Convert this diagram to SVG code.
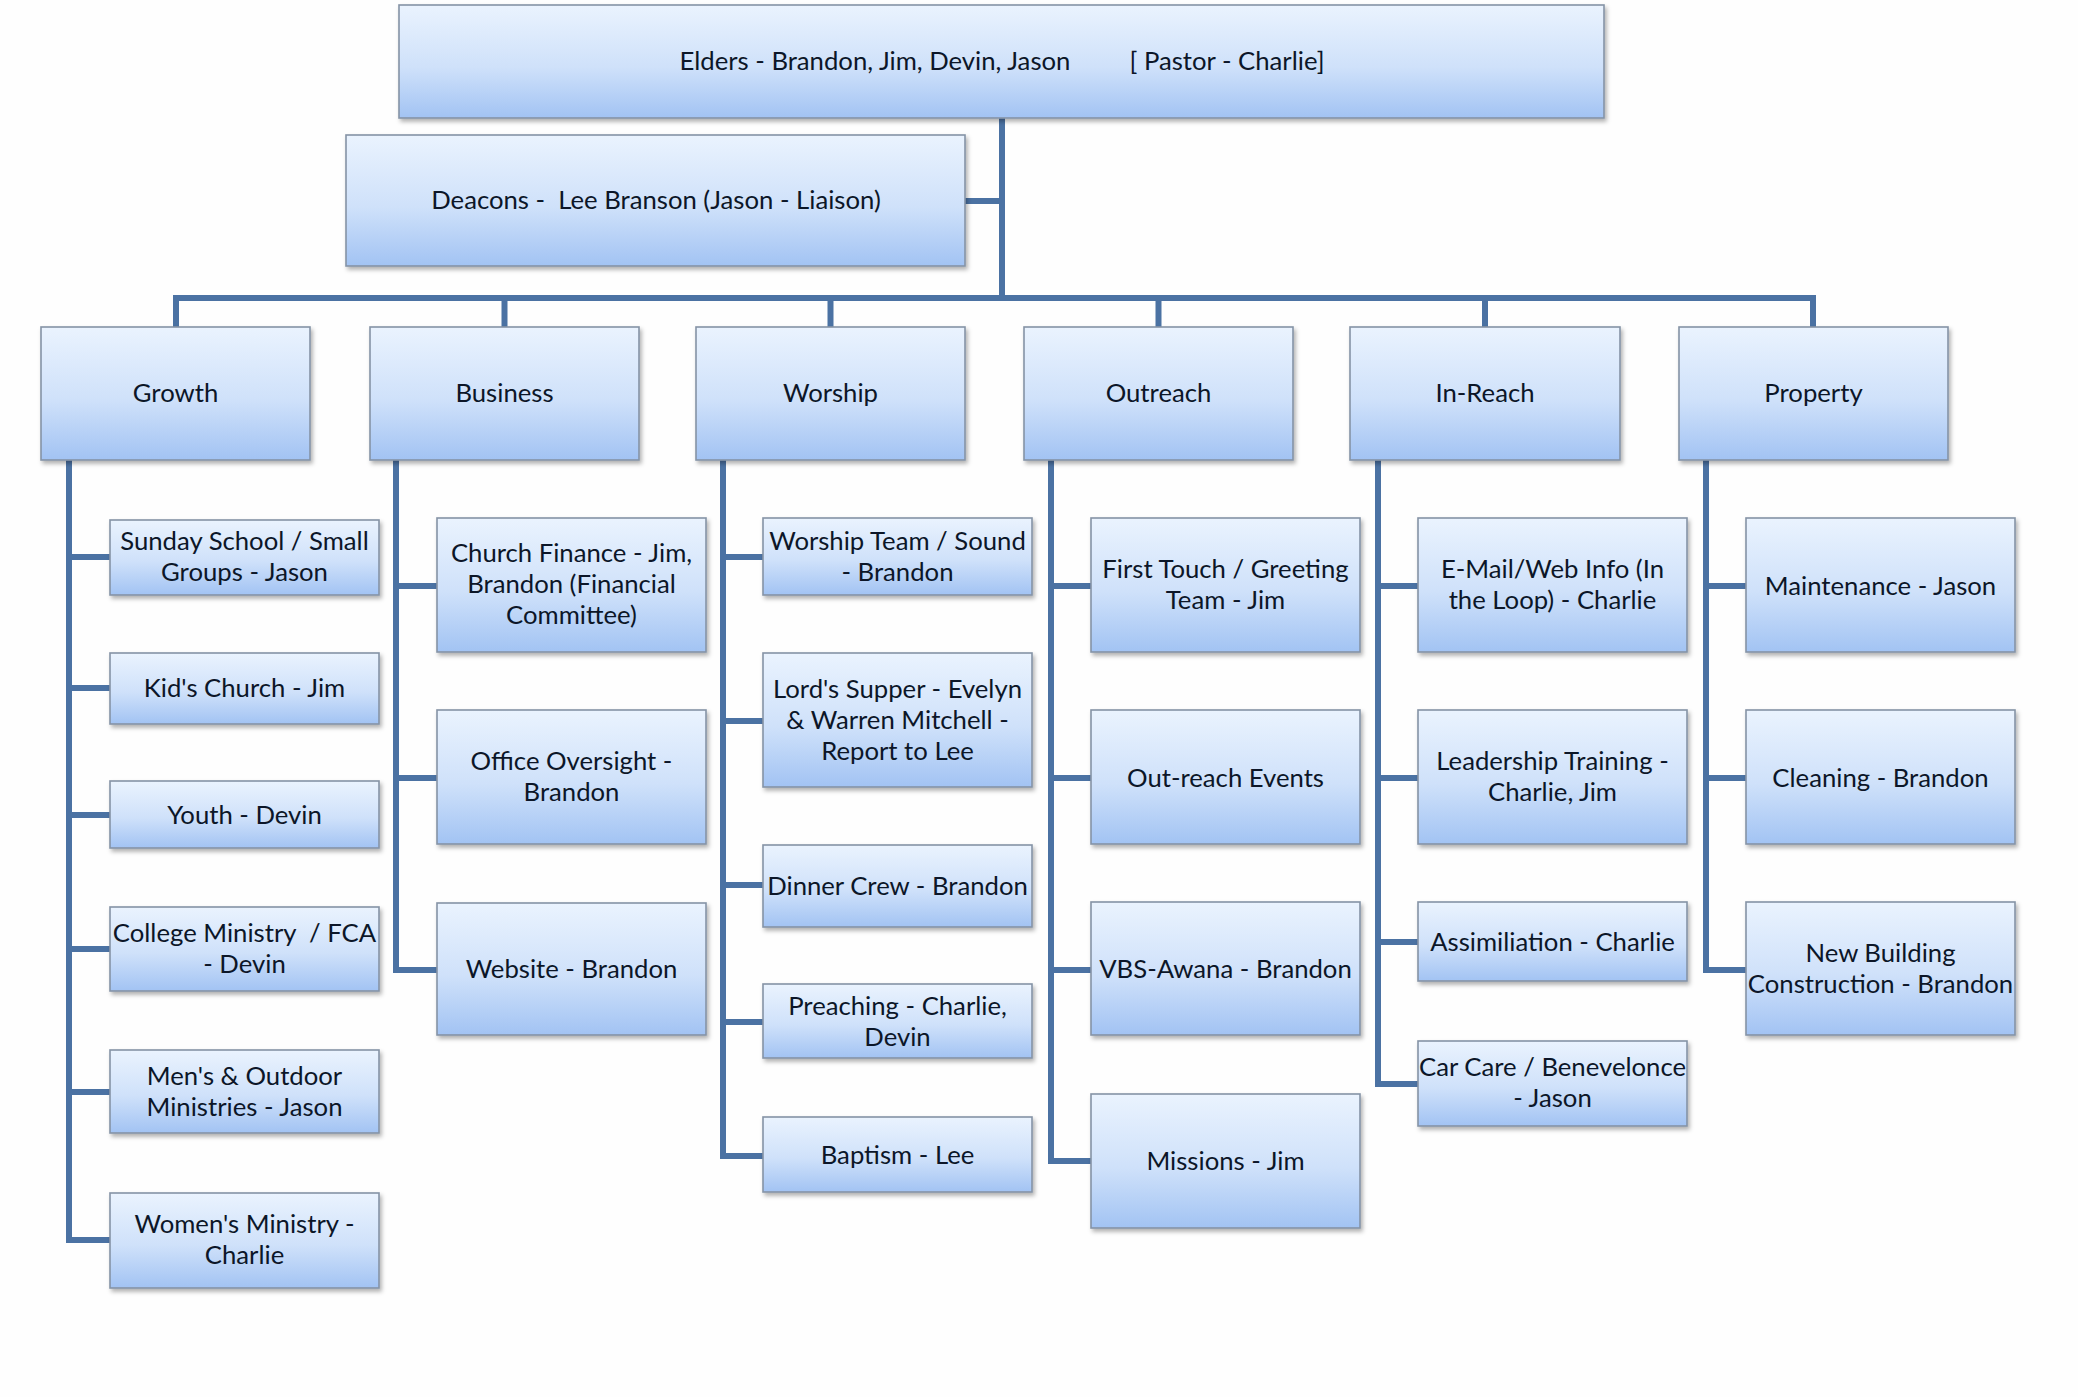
<svg xmlns="http://www.w3.org/2000/svg" width="2078" height="1397" viewBox="0 0 2078 1397">
<defs>
<linearGradient id="boxfill" x1="0" y1="0" x2="0" y2="1">
<stop offset="0" stop-color="#eaf3fe"/>
<stop offset="0.55" stop-color="#cfe1fa"/>
<stop offset="1" stop-color="#a2c3f3"/>
</linearGradient>
<filter id="shadow" x="-5%" y="-5%" width="115%" height="130%">
<feDropShadow dx="2" dy="3" stdDeviation="2" flood-color="#000" flood-opacity="0.3"/>
</filter>
</defs>
<style>
.box{fill:url(#boxfill);stroke:#8593a6;stroke-width:1.6;filter:url(#shadow)}
.t{font-family:Lato,"Open Sans","Liberation Sans",sans-serif;font-size:25.7px;fill:#0c1628;text-anchor:middle;white-space:pre}
.c{fill:none;stroke:#4b72a3;stroke-width:6;stroke-linejoin:miter}
</style>
<rect width="2078" height="1397" fill="#fefefe"/>
<g id="connectors">
<path class="c" d="M1002 118 V298"/>
<path class="c" d="M965 201 H1002"/>
<path class="c" d="M176 327 V298 H1813 V327"/>
<path class="c" d="M504.5 298 V327"/>
<path class="c" d="M830.5 298 V327"/>
<path class="c" d="M1158.5 298 V327"/>
<path class="c" d="M1485 298 V327"/>
<path class="c" d="M69 460 V1240 H110"/>
<path class="c" d="M69 557 H110 M69 688 H110 M69 815 H110 M69 949 H110 M69 1092 H110"/>
<path class="c" d="M396 460 V970 H437"/>
<path class="c" d="M396 586 H437 M396 778 H437"/>
<path class="c" d="M723 460 V1156 H763"/>
<path class="c" d="M723 557 H763 M723 721 H763 M723 885 H763 M723 1022 H763"/>
<path class="c" d="M1051 460 V1161 H1091"/>
<path class="c" d="M1051 586 H1091 M1051 778 H1091 M1051 970 H1091"/>
<path class="c" d="M1378 460 V1084 H1418"/>
<path class="c" d="M1378 586 H1418 M1378 778 H1418 M1378 942 H1418"/>
<path class="c" d="M1706 460 V970 H1746"/>
<path class="c" d="M1706 586 H1746 M1706 778 H1746"/>
</g>
<g id="elders"><rect class="box" x="399" y="5" width="1205" height="113"/>
<text class="t" x="875" y="70">Elders - Brandon, Jim, Devin, Jason</text>
<text class="t" x="1227" y="70">[ Pastor - Charlie]</text></g>
<g id="deacons"><rect class="box" x="346" y="135" width="619" height="131"/>
<text class="t" x="656" y="209" xml:space="preserve">Deacons -  Lee Branson (Jason - Liaison)</text></g>

<g id="growth"><rect class="box" x="41" y="327" width="269" height="133"/><text class="t" x="175.5" y="402">Growth</text></g>
<g id="business"><rect class="box" x="370" y="327" width="269" height="133"/><text class="t" x="504.5" y="402">Business</text></g>
<g id="worship"><rect class="box" x="696" y="327" width="269" height="133"/><text class="t" x="830.5" y="402">Worship</text></g>
<g id="outreach"><rect class="box" x="1024" y="327" width="269" height="133"/><text class="t" x="1158.5" y="402">Outreach</text></g>
<g id="inreach"><rect class="box" x="1350" y="327" width="270" height="133"/><text class="t" x="1485" y="402">In-Reach</text></g>
<g id="property"><rect class="box" x="1679" y="327" width="269" height="133"/><text class="t" x="1813.5" y="402">Property</text></g>

<g id="sunday-school"><rect class="box" x="110" y="520" width="269" height="75"/><text class="t" x="244.5" y="550">Sunday School / Small</text><text class="t" x="244.5" y="581">Groups - Jason</text></g>
<g id="kids-church"><rect class="box" x="110" y="653" width="269" height="71"/><text class="t" x="244.5" y="697">Kid's Church - Jim</text></g>
<g id="youth"><rect class="box" x="110" y="781" width="269" height="67"/><text class="t" x="244.5" y="824">Youth - Devin</text></g>
<g id="college"><rect class="box" x="110" y="907" width="269" height="84"/><text class="t" x="244.5" y="942" xml:space="preserve">College Ministry  / FCA</text><text class="t" x="244.5" y="973">- Devin</text></g>
<g id="mens"><rect class="box" x="110" y="1050" width="269" height="83"/><text class="t" x="244.5" y="1085">Men's &amp; Outdoor</text><text class="t" x="244.5" y="1116">Ministries - Jason</text></g>
<g id="womens"><rect class="box" x="110" y="1193" width="269" height="95"/><text class="t" x="244.5" y="1233">Women's Ministry -</text><text class="t" x="244.5" y="1264">Charlie</text></g>

<g id="church-finance"><rect class="box" x="437" y="518" width="269" height="134"/><text class="t" x="571.5" y="562">Church Finance - Jim,</text><text class="t" x="571.5" y="593">Brandon (Financial</text><text class="t" x="571.5" y="624">Committee)</text></g>
<g id="office-oversight"><rect class="box" x="437" y="710" width="269" height="134"/><text class="t" x="571.5" y="770">Office Oversight -</text><text class="t" x="571.5" y="801">Brandon</text></g>
<g id="website"><rect class="box" x="437" y="903" width="269" height="132"/><text class="t" x="571.5" y="978">Website - Brandon</text></g>

<g id="worship-team"><rect class="box" x="763" y="518" width="269" height="77"/><text class="t" x="897.5" y="550">Worship Team / Sound</text><text class="t" x="897.5" y="581">- Brandon</text></g>
<g id="lords-supper"><rect class="box" x="763" y="653" width="269" height="134"/><text class="t" x="897.5" y="698">Lord's Supper - Evelyn</text><text class="t" x="897.5" y="729">&amp; Warren Mitchell -</text><text class="t" x="897.5" y="760">Report to Lee</text></g>
<g id="dinner-crew"><rect class="box" x="763" y="845" width="269" height="82"/><text class="t" x="897.5" y="895">Dinner Crew - Brandon</text></g>
<g id="preaching"><rect class="box" x="763" y="984" width="269" height="74"/><text class="t" x="897.5" y="1015">Preaching - Charlie,</text><text class="t" x="897.5" y="1046">Devin</text></g>
<g id="baptism"><rect class="box" x="763" y="1117" width="269" height="75"/><text class="t" x="897.5" y="1164">Baptism - Lee</text></g>

<g id="first-touch"><rect class="box" x="1091" y="518" width="269" height="134"/><text class="t" x="1225.5" y="578">First Touch / Greeting</text><text class="t" x="1225.5" y="609">Team - Jim</text></g>
<g id="outreach-events"><rect class="box" x="1091" y="710" width="269" height="134"/><text class="t" x="1225.5" y="787">Out-reach Events</text></g>
<g id="vbs-awana"><rect class="box" x="1091" y="902" width="269" height="133"/><text class="t" x="1225.5" y="978">VBS-Awana - Brandon</text></g>
<g id="missions"><rect class="box" x="1091" y="1094" width="269" height="134"/><text class="t" x="1225.5" y="1170">Missions - Jim</text></g>

<g id="email-web"><rect class="box" x="1418" y="518" width="269" height="134"/><text class="t" x="1552.5" y="578">E-Mail/Web Info (In</text><text class="t" x="1552.5" y="609">the Loop) - Charlie</text></g>
<g id="leadership"><rect class="box" x="1418" y="710" width="269" height="134"/><text class="t" x="1552.5" y="770">Leadership Training -</text><text class="t" x="1552.5" y="801">Charlie, Jim</text></g>
<g id="assimiliation"><rect class="box" x="1418" y="902" width="269" height="79"/><text class="t" x="1552.5" y="951">Assimiliation - Charlie</text></g>
<g id="car-care"><rect class="box" x="1418" y="1041" width="269" height="85"/><text class="t" x="1552.5" y="1076">Car Care / Benevelonce</text><text class="t" x="1552.5" y="1107">- Jason</text></g>

<g id="maintenance"><rect class="box" x="1746" y="518" width="269" height="134"/><text class="t" x="1880.5" y="595">Maintenance - Jason</text></g>
<g id="cleaning"><rect class="box" x="1746" y="710" width="269" height="134"/><text class="t" x="1880.5" y="787">Cleaning - Brandon</text></g>
<g id="new-building"><rect class="box" x="1746" y="902" width="269" height="133"/><text class="t" x="1880.5" y="962">New Building</text><text class="t" x="1880.5" y="993">Construction - Brandon</text></g>
</svg>
